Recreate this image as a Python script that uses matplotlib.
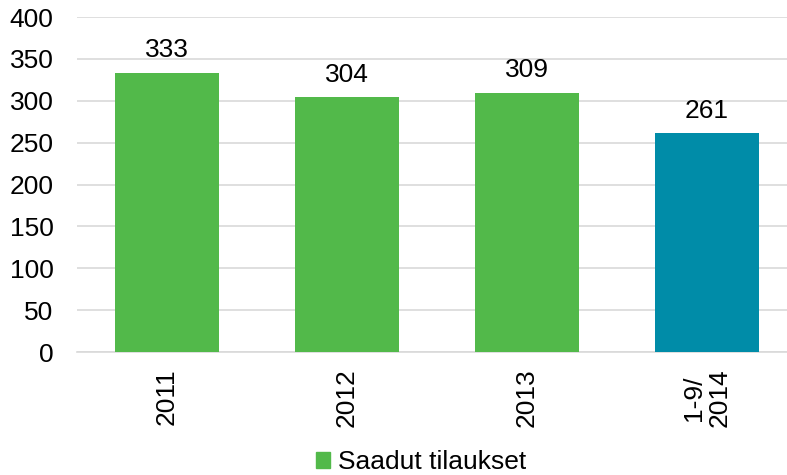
import matplotlib.pyplot as plt
from matplotlib.patches import Patch

plt.rcParams['font.family'] = ['Liberation Sans', 'DejaVu Sans']

# Data
categories = ['2011', '2012', '2013', '1-9/\n2014']
values = [333, 304, 309, 261]
bar_colors = ['#52B94A', '#52B94A', '#52B94A', '#008CA8']
legend_label = 'Saadut tilaukset'

fs = 19

fig = plt.figure(figsize=(7.87, 4.75), dpi=100)
ax = fig.add_axes([77 / 787, 1 - 352 / 475, 710 / 787, 335 / 475])

x = range(len(categories))
bars = ax.bar(x, values, width=0.58, color=bar_colors, zorder=3)

for xi, v in zip(x, values):
    ax.text(xi, v + 13, str(v), ha='center', va='bottom', fontsize=fs)

ax.set_ylim(0, 400)
ax.set_xlim(-0.5, 3.444)
ax.set_yticks(range(0, 401, 50))
ax.set_xticks(list(x))
ax.set_xticklabels(categories, rotation=90, fontsize=fs, linespacing=1.1)
ax.tick_params(axis='y', labelsize=fs, length=0, pad=17)
ax.tick_params(axis='x', length=0, pad=12)
ax.grid(axis='y', color='#D9D9D9', linewidth=1.2, zorder=0)
for side in ['top', 'right', 'left']:
    ax.spines[side].set_visible(False)
ax.spines['bottom'].set_color('#D9D9D9')
ax.spines['bottom'].set_linewidth(1.2)

handle = Patch(color='#52B94A')
fig.legend([handle], [legend_label], loc='center', bbox_to_anchor=(0.535, 1 - 462 / 475),
           frameon=False, fontsize=fs, handlelength=0.55, handleheight=0.55, handletextpad=0.3)

fig.savefig('out.png', dpi=100)
